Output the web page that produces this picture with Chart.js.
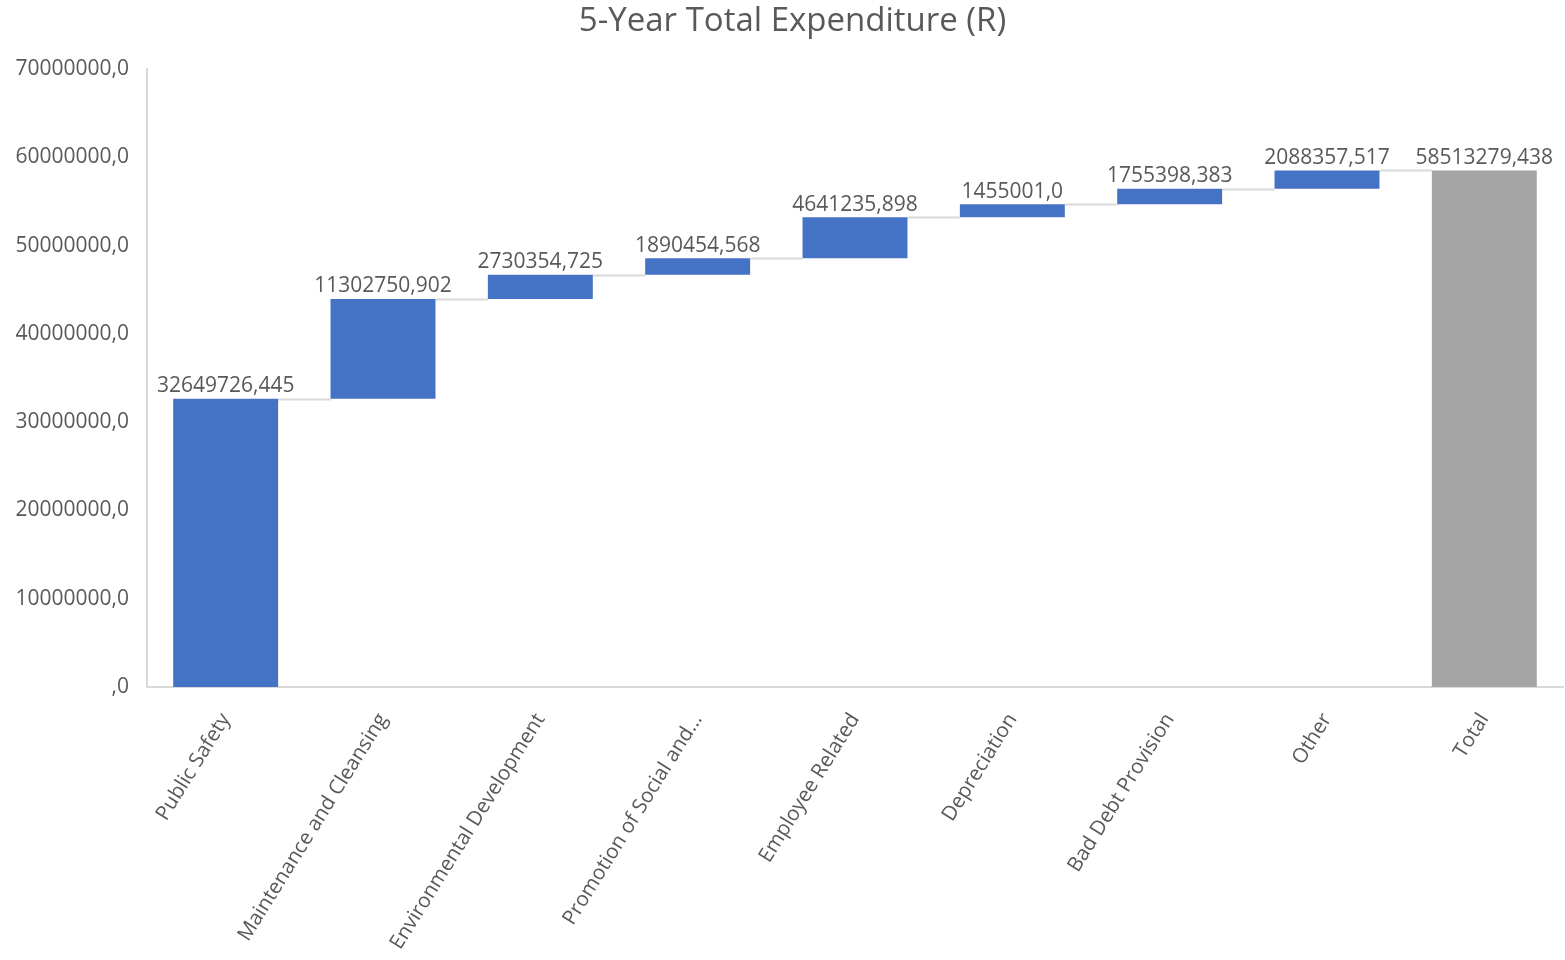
<!DOCTYPE html>
<html>
<head>
<meta charset="utf-8">
<title>5-Year Total Expenditure (R)</title>
<script src="https://cdn.jsdelivr.net/npm/chart.js@4/dist/chart.umd.min.js"></script>
<style>
  html, body { margin: 0; padding: 0; background: #fff; }
  #wrap { width: 1565px; height: 960px; }
</style>
</head>
<body>
<div id="wrap"><canvas id="expenditureChart" width="1565" height="960"></canvas></div>
<script>
// Categories and amounts (R), last entry is the running total
const categories = ['Public Safety', 'Maintenance and Cleansing', 'Environmental Development',
    'Promotion of Social and...', 'Employee Related', 'Depreciation', 'Bad Debt Provision', 'Other', 'Total'];
const amounts = [32649726.445, 11302750.902, 2730354.725, 1890454.568, 4641235.898,
    1455001.0, 1755398.383, 2088357.517, 58513279.438];
const amountLabels = ['32649726,445', '11302750,902', '2730354,725', '1890454,568', '4641235,898',
    '1455001,0', '1755398,383', '2088357,517', '58513279,438'];
const yTicks = [0, 10000000, 20000000, 30000000, 40000000, 50000000, 60000000, 70000000];
const chartTitle = '5-Year Total Expenditure (R)';

const increaseColor = '#4472C4';
const totalColor = '#A5A5A5';
const textColor = '#595959';
const lineColor = '#D9D9D9';
const fontFamily = "'Open Sans', 'Noto Sans', sans-serif";

// Build floating bar ranges: each step starts where the previous one ended
const ranges = [];
const levels = [];
let running = 0;
amounts.forEach((v, i) => {
    if (i === amounts.length - 1) {
        ranges.push([0, v]);
        levels.push(v);
    } else {
        ranges.push([running, running + v]);
        running += v;
        levels.push(running);
    }
});
const barColors = amounts.map((v, i) => i === amounts.length - 1 ? totalColor : increaseColor);

// Grey connector lines between consecutive bars
const connectorPlugin = {
    id: 'connectors',
    beforeDatasetsDraw(chart) {
        const meta = chart.getDatasetMeta(0);
        const y = chart.scales.y;
        const ctx = chart.ctx;
        ctx.save();
        ctx.strokeStyle = lineColor;
        ctx.lineWidth = 2;
        for (let i = 0; i < meta.data.length - 1; i++) {
            const a = meta.data[i], b = meta.data[i + 1];
            const py = Math.round(y.getPixelForValue(levels[i])) + 0.5;
            ctx.beginPath();
            ctx.moveTo(a.x + a.width / 2, py);
            ctx.lineTo(b.x - b.width / 2, py);
            ctx.stroke();
        }
        ctx.restore();
    }
};

// Value labels above each bar, plus the title
const valueLabelPlugin = {
    id: 'valueLabels',
    afterDatasetsDraw(chart) {
        const meta = chart.getDatasetMeta(0);
        const ctx = chart.ctx;
        ctx.save();
        ctx.font = '21px ' + fontFamily;
        ctx.fillStyle = textColor;
        ctx.textAlign = 'center';
        ctx.textBaseline = 'bottom';
        meta.data.forEach((bar, i) => {
            const top = Math.min(bar.y, bar.base);
            ctx.fillText(amountLabels[i], bar.x, top - 2);
        });

        ctx.font = '33px ' + fontFamily;
        ctx.textBaseline = 'middle';
        ctx.fillText(chartTitle, chart.width / 2 + 10, 22);
        ctx.restore();
    }
};

const ctx = document.getElementById('expenditureChart').getContext('2d');
const expenditureChart = new Chart(ctx, {
    type: 'bar',
    data: {
        labels: categories,
        datasets: [{
            data: ranges,
            backgroundColor: barColors,
            borderWidth: 0,
            barPercentage: 1.0,
            categoryPercentage: 0.667
        }]
    },
    options: {
        responsive: false,
        animation: false,
        layout: { padding: { top: 69, right: 2, bottom: 0, left: 0 } },
        plugins: {
            legend: { display: false },
            tooltip: { enabled: false },
            title: { display: false }
        },
        scales: {
            x: {
                grid: { display: false, drawTicks: false },
                border: { display: true, color: lineColor, width: 2 },
                ticks: {
                    color: textColor,
                    font: { family: fontFamily, size: 20.5 },
                    minRotation: 58,
                    maxRotation: 58,
                    padding: 22,
                    autoSkip: false
                },
                afterFit(scale) { scale.height = 273; }
            },
            y: {
                min: 0,
                max: 70000000,
                afterBuildTicks(scale) { scale.ticks = yTicks.map(v => ({ value: v })); },
                grid: { display: false, drawTicks: false },
                border: { display: true, color: lineColor, width: 2 },
                ticks: {
                    color: textColor,
                    font: { family: fontFamily, size: 21 },
                    padding: 18,
                    callback: v => v === 0 ? ',0' : v + ',0'
                },
                afterFit(scale) { scale.width = 147; }
            }
        }
    },
    plugins: [connectorPlugin, valueLabelPlugin]
});
</script>
</body>
</html>
